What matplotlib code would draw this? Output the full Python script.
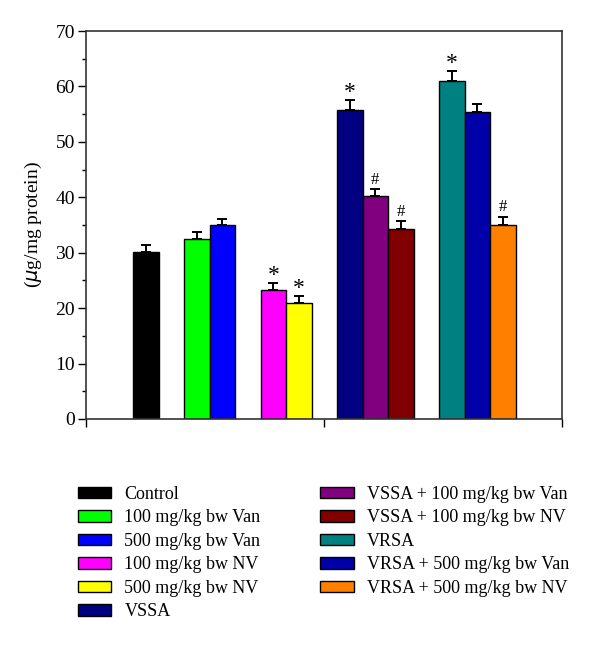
import matplotlib
matplotlib.use("Agg")
import matplotlib.pyplot as plt
import numpy as np

labels = ["Control", "100 mg/kg bw Van", "500 mg/kg bw Van", "100 mg/kg bw NV",
          "500 mg/kg bw NV", "VSSA", "VSSA + 100 mg/kg bw Van", "VSSA + 100 mg/kg bw NV",
          "VRSA", "VRSA + 500 mg/kg bw Van", "VRSA + 500 mg/kg bw NV"]
values = [30.2, 32.4, 35.0, 23.3, 21.0, 55.8, 40.2, 34.3, 60.9, 55.4, 35.0]
errors = [1.2, 1.3, 1.1, 1.2, 1.2, 1.8, 1.3, 1.4, 1.8, 1.4, 1.5]
marks = ["", "", "", "*", "*", "*", "#", "#", "*", "", "#"]
colors = ["#000000", "#00ff00", "#0000ff", "#ff00ff", "#ffff00", "#000080",
          "#800080", "#800000", "#008080", "#0000a8", "#ff8000"]
groups = [1, 2, 2, 3, 3, 4, 4, 4, 5, 5, 5]

plt.rcParams['font.family'] = ['Liberation Serif', 'DejaVu Serif']

fig = plt.figure(figsize=(6.0, 6.46), dpi=100)
ax = fig.add_axes([0.1433, 0.3514, 0.7934, 0.6006])

# positions: one-bar gap between groups
pos = []
x = 2.35
prev = groups[0]
for g in groups:
    if g != prev:
        x += 1.0
        prev = g
    pos.append(x)
    x += 1.0
pos = np.array(pos)

ax.bar(pos, values, width=1.0, color=colors, edgecolor="black", linewidth=1.0, zorder=2)
ax.errorbar(pos, values, yerr=[np.zeros(len(errors)), errors], fmt="none",
            ecolor="black", elinewidth=1.4, capsize=3.6, capthick=1.4, zorder=3)

for p, v, e, m in zip(pos, values, errors, marks):
    if m == "*":
        ax.annotate(m, (p, v + e), xytext=(0, -2), textcoords="offset points",
                    ha="center", va="bottom", fontsize=17)
    elif m == "#":
        ax.annotate(m, (p, v + e), xytext=(0, 1), textcoords="offset points",
                    ha="center", va="bottom", fontsize=12)

ax.set_xlim(0, 18.67)
ax.set_ylim(0, 70)
ax.set_xticks([0, 9.335, 18.67])
ax.set_xticklabels([])
ax.set_yticks(np.arange(0, 71, 10))
ax.set_yticks(np.arange(5, 70, 10), minor=True)
ax.tick_params(axis="y", which="major", direction="out", length=6, width=1,
               labelsize=14, pad=2)
ax.tick_params(axis="y", which="minor", direction="out", length=3, width=1)
ax.tick_params(axis="x", which="major", direction="out", length=6, width=1)
for s in ax.spines.values():
    s.set_linewidth(1.2)
    s.set_color("#333333")
ax.set_ylabel("($\\mathit{\\mu}$g/mg protein)", fontsize=14, labelpad=8)

handles = [plt.Rectangle((0, 0), 1, 1, facecolor=c, edgecolor="black", linewidth=1.0)
           for c in colors]
fig.legend(handles, labels, loc="upper left", bbox_to_anchor=(0.13, 0.248), ncol=2,
           frameon=False, fontsize=13, handlelength=1.85, handleheight=0.6,
           handletextpad=0.72, columnspacing=3.3, labelspacing=0.36,
           borderaxespad=0, borderpad=0)

fig.savefig("out.png", dpi=100)
